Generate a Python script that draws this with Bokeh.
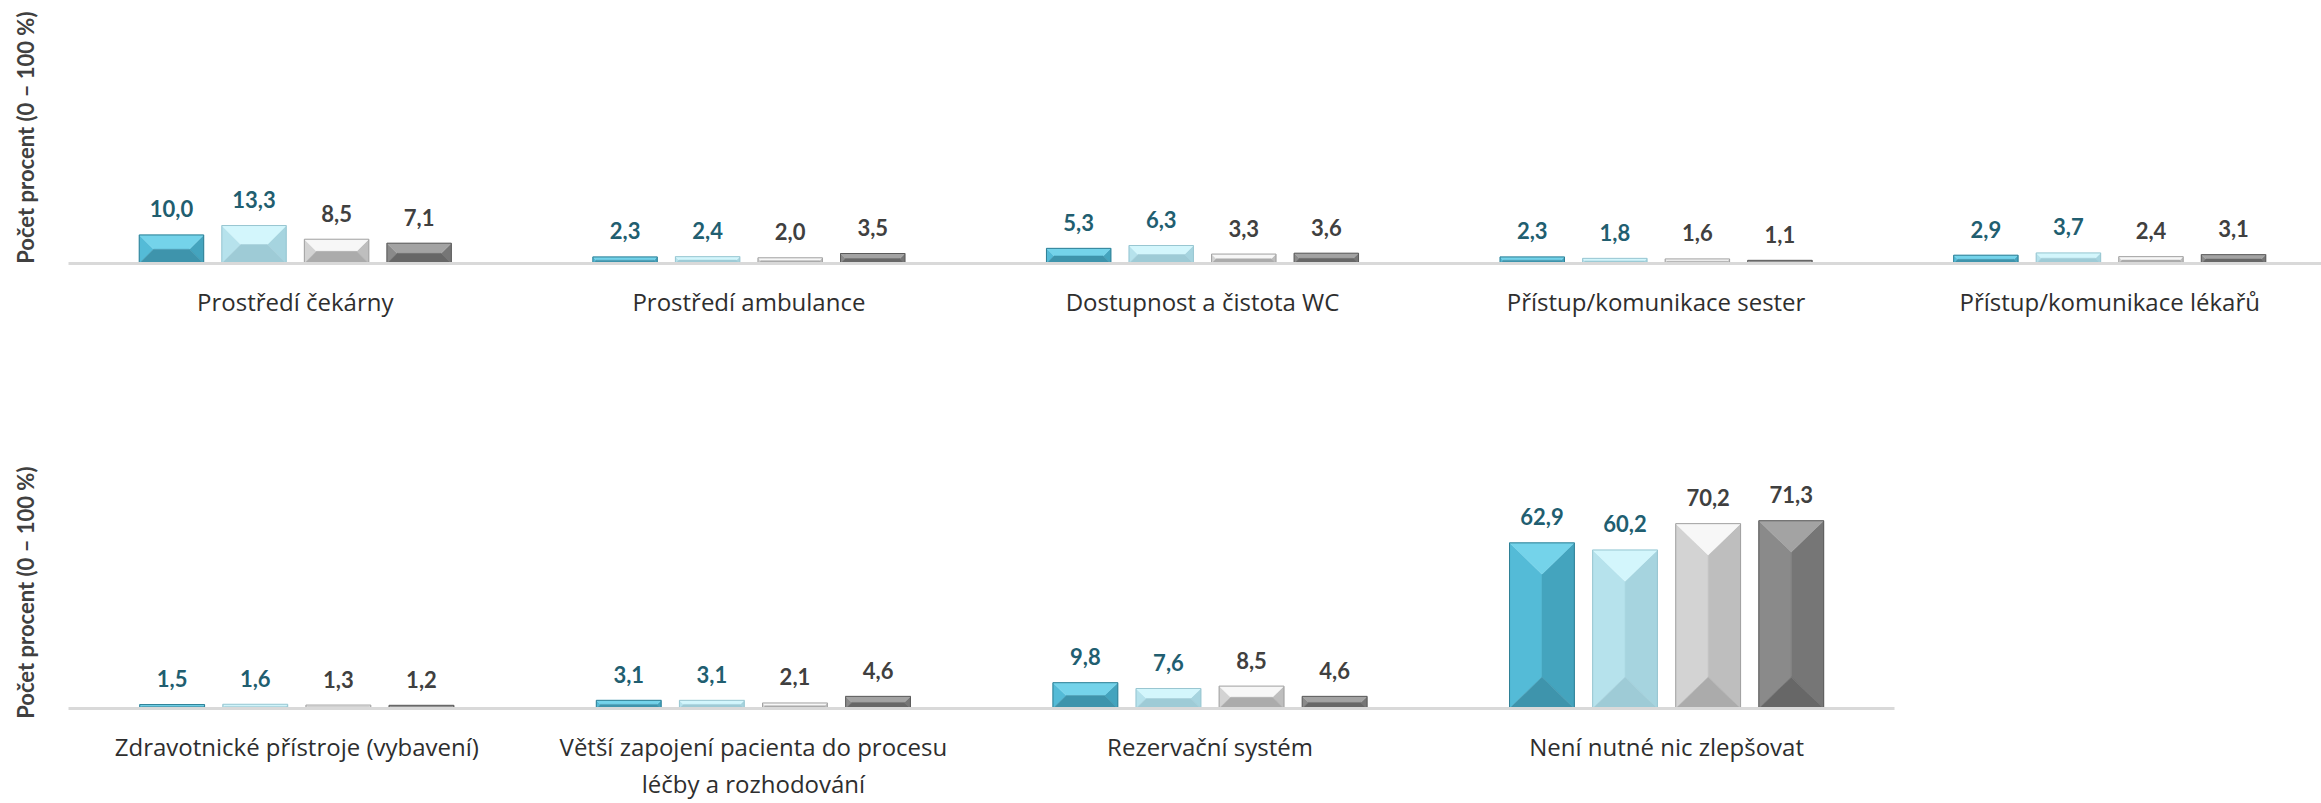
from bokeh.plotting import figure
from bokeh.layouts import column
from bokeh.models import Range1d, FixedTicker, ColumnDataSource
from bokeh.core.properties import value
from bokeh.embed import file_html
from bokeh.resources import INLINE

# ---------------- data ----------------
top_categories = ["Prostředí čekárny", "Prostředí ambulance", "Dostupnost a čistota WC",
                  "Přístup/komunikace sester", "Přístup/komunikace lékařů"]
top_series_1 = [10.0, 2.3, 5.3, 2.3, 2.9]
top_series_2 = [13.3, 2.4, 6.3, 1.8, 3.7]
top_series_3 = [8.5, 2.0, 3.3, 1.6, 2.4]
top_series_4 = [7.1, 3.5, 3.6, 1.1, 3.1]

bottom_categories = ["Zdravotnické přístroje (vybavení)",
                     "Větší zapojení pacienta do procesu\nléčby a rozhodování",
                     "Rezervační systém", "Není nutné nic zlepšovat"]
bottom_series_1 = [1.5, 3.1, 9.8, 62.9]
bottom_series_2 = [1.6, 3.1, 7.6, 60.2]
bottom_series_3 = [1.3, 2.1, 8.5, 70.2]
bottom_series_4 = [1.2, 4.6, 4.6, 71.3]

y_axis_title = "Počet procent  (0 – 100 %)"
y_max = 90

# ---------------- style ----------------
FONT = "Lato"
CAT_FONT = "Open Sans"
W = 2321
LEFT = 68
BAR_STEP = 0.182
BAR_W = 0.142
STYLES = [
    dict(top="#74D3EA", left="#54BBD7", right="#44A4BE", bottom="#3E94AC", line="#2E7F95", label="#215E70"),
    dict(top="#D3F6FC", left="#B6E2EC", right="#A6D4DF", bottom="#9ECBD6", line="#98C6D1", label="#215E70"),
    dict(top="#F7F7F7", left="#D3D3D3", right="#BEBEBE", bottom="#ABABAB", line="#A0A0A0", label="#404040"),
    dict(top="#A3A3A3", left="#8A8A8A", right="#767676", bottom="#676767", line="#5A5A5A", label="#404040"),
]


def fmt(v):
    return f"{v:.1f}".replace(".", ",")


def make_panel(cats, series, height, b_top, b_bottom, px_per_cat):
    n = len(cats)
    frame_w = W - LEFT
    frame_h = height - b_top - b_bottom
    x_end = -0.5 + frame_w / px_per_cat
    xs_scale = px_per_cat
    ys_scale = frame_h / y_max

    p = figure(width=W, height=height, output_backend="svg", toolbar_location=None,
               x_range=Range1d(-0.5, x_end), y_range=Range1d(0, y_max),
               min_border_left=LEFT, min_border_right=0,
               min_border_top=b_top, min_border_bottom=b_bottom)
    p.outline_line_color = None
    p.grid.visible = False
    p.background_fill_color = "white"

    # x axis (categories)
    xa = p.xaxis[0]
    xa.ticker = FixedTicker(ticks=list(range(n)))
    xa.bounds = (-0.5, min(n - 0.5, x_end + 1))
    xa.major_label_overrides = {i: c for i, c in enumerate(cats)}
    xa.axis_line_color = "#D9D9D9"
    xa.axis_line_width = 3
    xa.major_tick_out = 0
    xa.major_tick_in = 0
    xa.minor_tick_out = 0
    xa.minor_tick_in = 0
    xa.major_label_text_font = CAT_FONT
    xa.major_label_text_font_size = "24px"
    xa.major_label_text_color = "#2E2E2E"
    xa.major_label_standoff = 21
    xa.major_label_text_line_height = 1.15

    # y axis (title only)
    ya = p.yaxis[0]
    ya.ticker = FixedTicker(ticks=[])
    ya.axis_line_color = None
    ya.major_tick_out = 0
    ya.major_tick_in = 0
    ya.minor_tick_out = 0
    ya.minor_tick_in = 0
    ya.major_label_text_font_size = "0px"
    ya.axis_label = y_axis_title
    ya.axis_label_text_font = FONT
    ya.axis_label_text_font_style = "bold"
    ya.axis_label_text_font_size = "22px"
    ya.axis_label_text_color = "#404040"
    ya.axis_label_standoff = 30

    for j, vals in enumerate(series):
        st = STYLES[j]
        off = (j - 1.5) * BAR_STEP
        polys = {k: ([], []) for k in ("left", "right", "top", "bottom")}
        lx, ly, lt = [], [], []
        for i, v in enumerate(vals):
            cx = i + off
            x0, x1 = cx - BAR_W / 2, cx + BAR_W / 2
            d_px = min(BAR_W * xs_scale / 2, v * ys_scale / 2)
            dx, dy = d_px / xs_scale, d_px / ys_scale
            polys["left"][0].append([x0, x0, x0 + dx, x0 + dx])
            polys["left"][1].append([0, v, v - dy, dy])
            polys["right"][0].append([x1, x1, x1 - dx, x1 - dx])
            polys["right"][1].append([0, v, v - dy, dy])
            polys["top"][0].append([x0, x1, x1 - dx, x0 + dx])
            polys["top"][1].append([v, v, v - dy, v - dy])
            polys["bottom"][0].append([x0, x1, x1 - dx, x0 + dx])
            polys["bottom"][1].append([0, 0, dy, dy])
            lx.append(cx)
            ly.append(v)
            lt.append(fmt(v))
        for part in ("left", "right", "top", "bottom"):
            p.patches(xs=polys[part][0], ys=polys[part][1], fill_color=st[part],
                      line_color=st[part], line_width=0.5)
        p.quad(left=[x - BAR_W / 2 for x in lx], right=[x + BAR_W / 2 for x in lx],
               bottom=0, top=ly, fill_color=None, line_color=st["line"], line_width=1)
        src = ColumnDataSource(dict(x=lx, y=ly, t=lt))
        p.text(x="x", y="y", text="t", source=src, text_align="center",
               text_baseline="alphabetic", y_offset=-26,
               text_font=value(FONT), text_font_style="bold",
               text_font_size="22px", text_color=st["label"])
    return p


top_plot = make_panel(top_categories,
                      [top_series_1, top_series_2, top_series_3, top_series_4],
                      height=440, b_top=6, b_bottom=177, px_per_cat=453.6)
bottom_plot = make_panel(bottom_categories,
                         [bottom_series_1, bottom_series_2, bottom_series_3, bottom_series_4],
                         height=363, b_top=31, b_bottom=87, px_per_cat=456.6)

layout = column(top_plot, bottom_plot, spacing=0)
open("out.html", "w").write(file_html(layout, INLINE))
